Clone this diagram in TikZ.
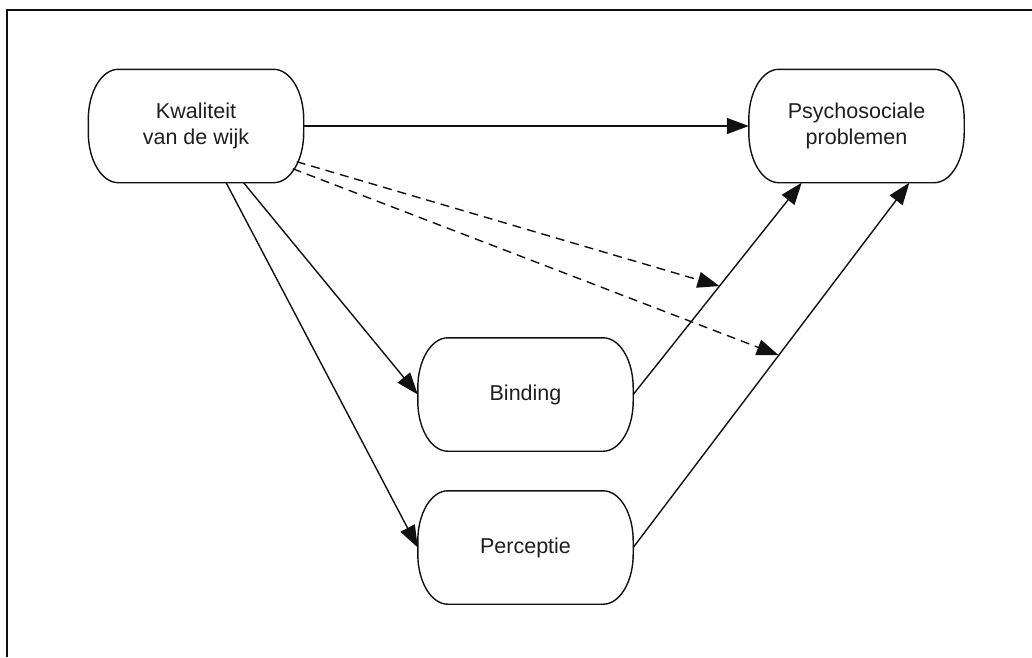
\documentclass[tikz,border=0pt]{standalone}
\usepackage{fontspec}
\setmainfont{Liberation Sans}
\usetikzlibrary{arrows.meta,calc}
\definecolor{txt}{HTML}{1E1E1E}
\definecolor{ink}{HTML}{111111}

\begin{document}
\begin{tikzpicture}[
  x=1pt, y=1pt,
  >={Triangle[length=22pt,width=16pt]},
  box/.style={rectangle, minimum width=215pt, minimum height=113pt, inner sep=0pt, align=center, text=txt, font=\fontsize{21.5}{26}\selectfont},
  outline/.style={line width=1.4pt, color=ink},
  arr/.style={->, line width=1.4pt, color=ink},
  darr/.style={->, line width=1.4pt, color=ink, dash pattern=on 9pt off 6pt},
]
\useasboundingbox (0,0) rectangle (1032,-657);

% frame
\draw[line width=1.8pt, color=ink] (1032,-10) -- (7,-10) -- (7,-657);

\node[box] (kw) at (196,-126) {Kwaliteit\\van de wijk};
\node[box] (psy) at (856.5,-126) {Psychosociale\\problemen};
\node[box] (bind) at (525.5,-394.5) {Binding};
\node[box] (perc) at (525.5,-547.5) {Perceptie};

% rounded outlines
\foreach \n in {kw,psy,bind,perc}
  \draw[outline] ($(\n.north west)+(30,0)$) -- ($(\n.north east)+(-30,0)$)
    arc[start angle=90, end angle=0, x radius=30pt, y radius=50pt]
    -- ($(\n.south east)+(0,50)$)
    arc[start angle=0, end angle=-90, x radius=30pt, y radius=50pt]
    -- ($(\n.south west)+(30,0)$)
    arc[start angle=270, end angle=180, x radius=30pt, y radius=50pt]
    -- ($(\n.north west)+(0,-50)$)
    arc[start angle=180, end angle=90, x radius=30pt, y radius=50pt]
    -- cycle;

\draw[arr] (kw) -- (psy);
\draw[arr] (kw.-50.5) -- (bind.west);
\draw[arr] (kw.-62) -- (perc.west);
\draw[arr] (bind.east) -- coordinate[pos=0.512] (mb) (psy.-134.7);
\draw[arr] (perc.east) -- coordinate[pos=0.527] (mp) (psy.-47.9);

\draw[darr] ([shift={(-7,21)}]kw.south east) -- (mb);
\draw[darr] ([shift={(-11,14)}]kw.south east) -- (mp);

\end{tikzpicture}
\end{document}
